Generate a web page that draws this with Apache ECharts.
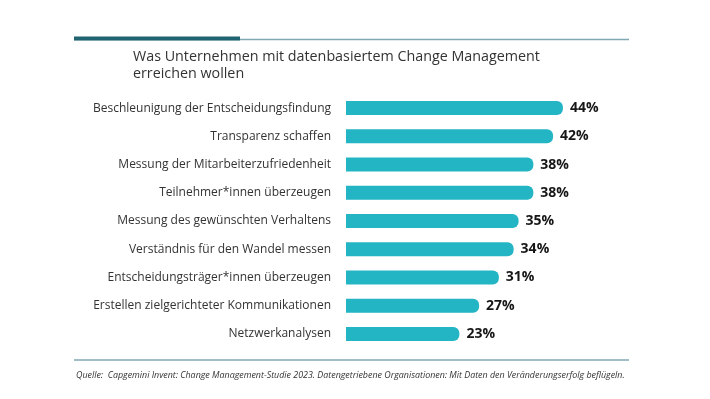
<!DOCTYPE html>
<html>
<head>
<meta charset="utf-8">
<script src="https://cdn.jsdelivr.net/npm/echarts@6/dist/echarts.min.js"></script>
<style>
  html, body { margin: 0; padding: 0; background: #fff; }
  #chart { width: 710px; height: 399px; }
</style>
</head>
<body>
<div id="chart"></div>
<script>
// Change-Management Ziele (Capgemini Invent 2023)
const categories = [
    'Beschleunigung der Entscheidungsfindung',
    'Transparenz schaffen',
    'Messung der Mitarbeiterzufriedenheit',
    'Teilnehmer*innen überzeugen',
    'Messung des gewünschten Verhaltens',
    'Verständnis für den Wandel messen',
    'Entscheidungsträger*innen überzeugen',
    'Erstellen zielgerichteter Kommunikationen',
    'Netzwerkanalysen'
];
const values = [44, 42, 38, 38, 35, 34, 31, 27, 23];

const titleText = 'Was Unternehmen mit datenbasiertem Change Management\nerreichen wollen';
const sourceText = 'Quelle:  Capgemini Invent: Change Management-Studie 2023. Datengetriebene Organisationen: Mit Daten den Veränderungserfolg beflügeln.';

const font = '"Open Sans", "Noto Sans", sans-serif';

const chart = echarts.init(document.getElementById('chart'));

let option = {
    backgroundColor: '#fff',
    animation: false,
    title: {
        text: titleText,
        left: 128,
        top: 44,
        textStyle: {
            fontFamily: font,
            fontSize: 14.3,
            fontWeight: 'normal',
            color: '#333',
            lineHeight: 16.5
        }
    },
    grid: {
        left: 346,
        width: 246.5,
        top: 94,
        height: 254
    },
    xAxis: {
        type: 'value',
        min: 0,
        max: 50,
        show: false
    },
    yAxis: {
        type: 'category',
        inverse: true,
        data: categories,
        axisLine: {show: false},
        axisTick: {show: false},
        axisLabel: {
            margin: 15,
            fontFamily: font,
            fontSize: 12,
            color: '#333'
        }
    },
    series: [
        {
            type: 'bar',
            data: values,
            barWidth: 14,
            itemStyle: {
                color: '#23b5c4',
                borderRadius: [0, 6, 6, 0]
            },
            label: {
                show: true,
                position: 'right',
                distance: 7,
                formatter: '{c}%',
                fontFamily: font,
                fontSize: 14,
                fontWeight: 'bold',
                color: '#161616'
            }
        }
    ],
    graphic: [
        // top rule: thin line + thick accent
        {
            type: 'line',
            shape: {x1: 74, y1: 39.5, x2: 629, y2: 39.5},
            style: {stroke: '#7fa8b2', lineWidth: 1.5}
        },
        {
            type: 'rect',
            shape: {x: 74, y: 36.5, width: 166, height: 4},
            style: {fill: '#1f6470'}
        },
        // bottom rule
        {
            type: 'line',
            shape: {x1: 74, y1: 360, x2: 629, y2: 360},
            style: {stroke: '#7fa8b2', lineWidth: 1.5}
        },
        {
            type: 'text',
            left: 76,
            top: 371,
            style: {
                text: sourceText,
                fontFamily: font,
                fontSize: 8.9,
                fontStyle: 'italic',
                fill: '#333'
            }
        }
    ]
};

chart.setOption(option);
</script>
</body>
</html>
